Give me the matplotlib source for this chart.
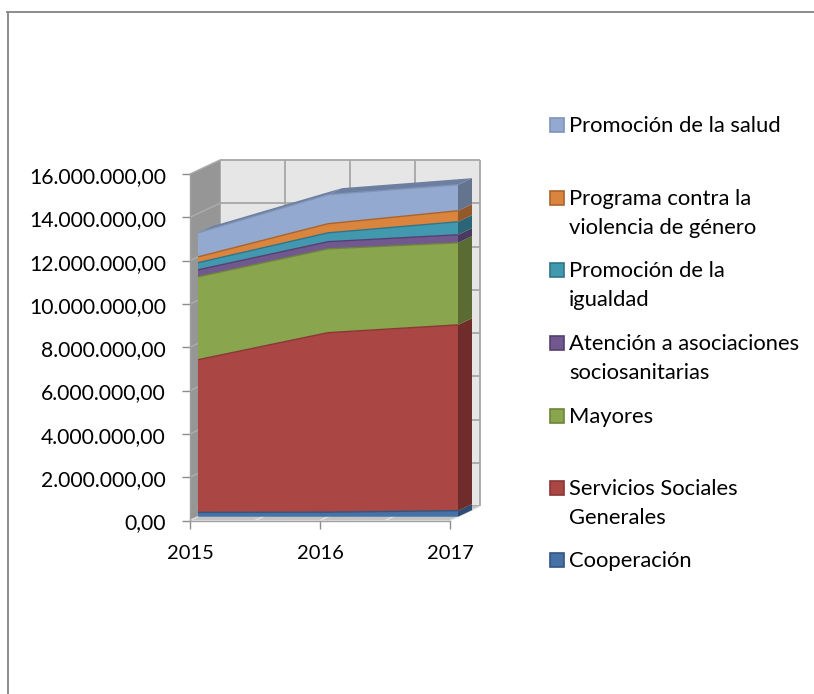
import numpy as np
import matplotlib
matplotlib.use("Agg")
import matplotlib.pyplot as plt
from matplotlib.lines import Line2D
from matplotlib.patches import Rectangle
from matplotlib.transforms import ScaledTranslation

plt.rcParams['font.family'] = ['Lato', 'DejaVu Sans']

W, H = 814, 694

years = [2015, 2016, 2017]

# bottom to top of the stack
cooperacion = [200000, 210000, 280000]
servicios = [7050000, 8290000, 8580000]
mayores = [3830000, 3870000, 3790000]
asociaciones = [320000, 330000, 370000]
igualdad = [330000, 410000, 600000]
violencia = [270000, 420000, 510000]
salud = [1110000, 1340000, 1200000]

series = [cooperacion, servicios, mayores, asociaciones, igualdad, violencia, salud]
front_colors = ['#4672a8', '#aa4643', '#89a54e', '#71588f', '#4198af', '#db843d', '#93a9cf']
edge_colors = ['#33557e', '#8a3735', '#6d843c', '#563f70', '#2f7588', '#a9642c', '#7f94b8']
side_colors = ['#2f4d74', '#6f2c2b', '#5a6b33', '#4a3a5f', '#2b6577', '#93592a', '#64748f']

legend_labels = ['Promoción de la salud', 'Programa contra la\nviolencia de género',
                 'Promoción de la\nigualdad', 'Atención a asociaciones\nsociosanitarias',
                 'Mayores', 'Servicios Sociales\nGenerales', 'Cooperación']
legend_rows = [124, 197, 269, 342, 415, 487, 559]

y_ticks = list(range(0, 16000001, 2000000))
wall_x = [2015, 2015.5, 2016, 2016.5, 2017]

fig = plt.figure(figsize=(W / 100, H / 100), dpi=100)
# front plane of the fake 3D box
ax = fig.add_axes([190 / W, 1 - 520.5 / H, 260 / W, 346.5 / H])
ax.set_xlim(2015, 2017)
ax.set_ylim(0, 16000000)

px_x = 2 / 260
px_y = 16000000 / 346.5


# shift a point back into the box, depth in pixels
def proj(year, value, depth):
    return year + depth * px_x, value + depth * 0.47 * px_y


def poly(points, color, z, edge='none', lw=0):
    xs, ys = zip(*[proj(*p) for p in points])
    ax.fill(xs, ys, facecolor=color, edgecolor=edge, linewidth=lw, zorder=z, clip_on=False)


def line(p1, p2, color, z, lw=1.3):
    xs, ys = zip(proj(*p1), proj(*p2))
    ax.plot(xs, ys, color=color, lw=lw, zorder=z, clip_on=False, solid_capstyle='butt')


top = y_ticks[-1]
grid = '#a6a6a6'

# back wall
poly([(2015, 0, 30), (2017, 0, 30), (2017, top, 30), (2015, top, 30)], '#e6e6e6', 1)
for v in y_ticks:
    line((2015, v, 30), (2017, v, 30), grid, 1.5)
for x in wall_x:
    line((x, 0, 30), (x, top, 30), grid, 1.5)

# left wall
poly([(2015, 0, 0), (2015, 0, 30), (2015, top, 30), (2015, top, 0)], '#969696', 2)
for v in y_ticks:
    line((2015, v, 0), (2015, v, 30), '#adadad', 2.5, lw=1)

# floor
poly([(2015, 0, 0), (2017, 0, 0), (2017, 0, 30), (2015, 0, 30)], '#c4c4c4', 2)
for x in wall_x:
    line((x, 0, 0), (x, 0, 30), '#e4e4e4', 2.5, lw=1)

# stacked areas
d_front, d_back = 8, 22
stack = np.cumsum(np.array(series, dtype=float), axis=0)
bottom = np.zeros(len(years))
for i, upper in enumerate(stack):
    front = [(y, b, d_front) for y, b in zip(years, bottom)]
    front += [(y, u, d_front) for y, u in zip(years[::-1], upper[::-1])]
    poly(front, front_colors[i], 5 + i * 0.01)
    for k in range(len(years) - 1):
        line((years[k], upper[k], d_front), (years[k + 1], upper[k + 1], d_front),
             edge_colors[i], 5.5, lw=1)
    poly([(2017, bottom[-1], d_front), (2017, bottom[-1], d_back),
          (2017, upper[-1], d_back), (2017, upper[-1], d_front)], side_colors[i], 4)
    bottom = upper

# roof of the top band
for k in range(len(years) - 1):
    poly([(years[k], stack[-1][k], d_front), (years[k + 1], stack[-1][k + 1], d_front),
          (years[k + 1], stack[-1][k + 1], d_back), (years[k], stack[-1][k], d_back)],
         '#6d7fa0', 4)

ax.set_xticks(years)
ax.set_yticks(y_ticks)
ax.yaxis.set_major_formatter(lambda v, pos: f"{v:,.2f}".replace(',', 'x').replace('.', ',').replace('x', '.'))
ax.tick_params(axis='both', length=5.8, width=1, color='#8c8c8c', labelcolor='black')
ax.tick_params(axis='x', pad=12, labelsize=14.5)
ax.tick_params(axis='y', pad=11.5, labelsize=15.2)
# labels sit a little under their ticks
for lab in ax.get_yticklabels():
    lab.set_transform(lab.get_transform() + ScaledTranslation(0, -0.7 / 72, fig.dpi_scale_trans))
ax.patch.set_visible(False)
for name, spine in ax.spines.items():
    spine.set_visible(name in ('left', 'bottom'))
    spine.set_color('#a0a0a0')
    spine.set_linewidth(1)
    spine.set_zorder(3)

# legend
for label, row, color, edge in zip(legend_labels, legend_rows, front_colors[::-1], edge_colors[::-1]):
    fig.add_artist(Rectangle((549.5 / W, 1 - (row + 8) / H), 14 / W, 14 / H, transform=fig.transFigure,
                             facecolor=color, edgecolor=edge, linewidth=1.2))
    fig.text(569 / W, 1 - (row - 8) / H, label, fontsize=15.8, va='top', ha='left', linespacing=1.55)

# chart frame, only the top and left sides show
frame = '#8c8c8c'
fig.add_artist(Line2D([7.5 / W, 7.5 / W], [0, 1 - 12 / H], color=frame, lw=1.4))
fig.add_artist(Line2D([7 / W, 1], [1 - 12 / H, 1 - 12 / H], color=frame, lw=1.4))

fig.savefig('out.png', dpi=100)
